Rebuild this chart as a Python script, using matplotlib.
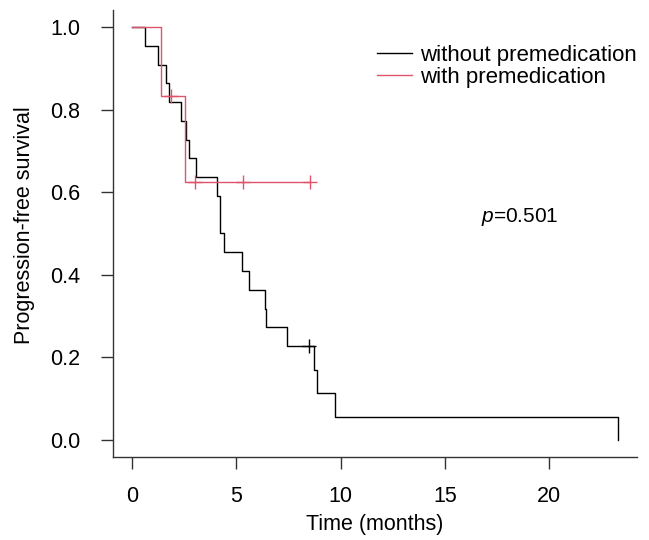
import numpy as np
import matplotlib
matplotlib.use("Agg")
import matplotlib.pyplot as plt

# ---- data ----
times_without = [0.64, 1.24, 1.63, 1.79, 2.35, 2.57, 2.73, 3.07, 4.07, 4.20, 4.23,
                 4.39, 5.27, 5.62, 6.39, 6.43, 7.43, 8.48, 8.70, 8.86, 9.74, 23.27]
events_without = [1, 1, 1, 1, 1, 1, 1, 1, 1, 1, 1,
                  1, 1, 1, 1, 1, 1, 0, 1, 1, 1, 1]
times_with = [1.40, 1.84, 2.51, 3.02, 5.30, 8.54]
events_with = [1, 0, 1, 0, 0, 0]
labels = ["without premedication", "with premedication"]
colors = ["black", "#DF536B"]
p_text = "0.501"
x_ticks = [0, 5, 10, 15, 20]
y_ticks = [0.0, 0.2, 0.4, 0.6, 0.8, 1.0]


def kaplan_meier(times, events):
    t = np.asarray(times, float)
    e = np.asarray(events, int)
    order = np.argsort(t, kind="stable")
    t, e = t[order], e[order]
    n = len(t)
    xs, ys = [0.0], [1.0]
    cx, cy = [], []
    s = 1.0
    at_risk = n
    for ti, ei in zip(t, e):
        if ei:
            s = s * (at_risk - 1) / at_risk
        else:
            cx.append(ti)
            cy.append(s)
        xs.append(ti)
        ys.append(s)
        at_risk -= 1
    return np.array(xs), np.array(ys), np.array(cx), np.array(cy)


plt.rcParams["font.family"] = ["Liberation Sans", "DejaVu Sans"]
plt.rcParams["mathtext.fontset"] = "custom"
plt.rcParams["mathtext.it"] = "Liberation Sans:italic"
plt.rcParams["mathtext.rm"] = "Liberation Sans"

fig = plt.figure(figsize=(6.49, 5.40), dpi=100)
ax = fig.add_axes([0.1737, 0.1546, 0.9815 - 0.1737, 0.9806 - 0.1546])

groups = [(times_without, events_without), (times_with, events_with)]
for (t, e), lab, col in zip(groups, labels, colors):
    xs, ys, cx, cy = kaplan_meier(t, e)
    ax.plot(xs, ys, drawstyle="steps-post", color=col, lw=1.0, label=lab)
    if len(cx):
        ax.plot(cx, cy, linestyle="none", marker="+", markersize=10,
                markeredgewidth=1.0, color=col)

tmax = max(max(times_without), max(times_with))
ax.set_xlim(-0.04 * tmax, 1.04 * tmax)
ax.set_ylim(-0.04, 1.04)
ax.set_xticks(x_ticks)
ax.set_yticks(y_ticks)
ax.set_xticklabels([str(v) for v in x_ticks])
ax.set_yticklabels([f"{v:.1f}" for v in y_ticks])

for side in ("top", "right"):
    ax.spines[side].set_visible(False)
for side in ("left", "bottom"):
    ax.spines[side].set_linewidth(1.0)
    ax.spines[side].set_color("#333333")

ax.tick_params(axis="both", direction="out", length=8.5, width=1.0,
               color="#333333", labelsize=15.5, labelcolor="black")
ax.tick_params(axis="y", pad=15)
ax.tick_params(axis="x", pad=13)

ax.set_xlabel("Time (months)", fontsize=15.5)
ax.set_ylabel("Progression-free survival", fontsize=15.5)
ax.xaxis.set_label_coords(0.5, (456.5 - 535) / 446, transform=ax.transAxes)
ax.xaxis.label.set_va("bottom")
ax.yaxis.set_label_coords((14 - 112.7) / 524.3, 0.519, transform=ax.transAxes)
ax.yaxis.label.set_va("top")

ax.legend(loc="upper left", bbox_to_anchor=(377 / 649, 1 - 45 / 540),
          bbox_transform=fig.transFigure, frameon=False, fontsize=16,
          handlelength=1.58, handletextpad=0.36, labelspacing=0.05,
          borderpad=0, borderaxespad=0)

ax.text(16.72, 0.541, r"$p$=" + p_text, fontsize=15, ha="left", va="center")

fig.savefig("out.png", dpi=100)
